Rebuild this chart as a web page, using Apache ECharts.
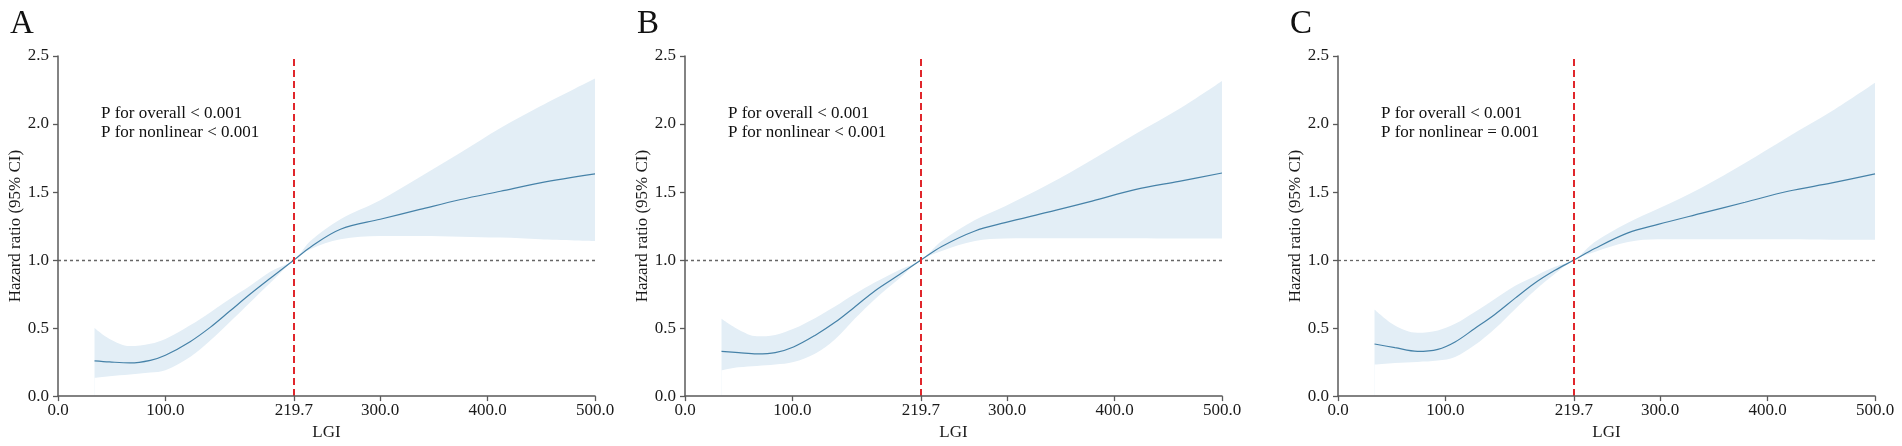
<!DOCTYPE html>
<html>
<head>
<meta charset="utf-8">
<title>LGI hazard ratio</title>
<script src="https://cdn.jsdelivr.net/npm/echarts@6.0.0/dist/echarts.min.js"></script>
<style>
    html, body { margin: 0; padding: 0; background: #fff; }
    #main { width: 1902px; height: 446px; }
</style>
</head>
<body>
<div id="main"></div>
<script>
/* 三个面板的限制性立方样条曲线 */
var cutoff = 219.7
var refHR = 1.0
var xTicks = [0, 100, 219.7, 300, 400, 500]
var panelNames = ['A', 'B', 'C']
var pOverall = ['P for overall < 0.001', 'P for overall < 0.001', 'P for overall < 0.001']
var pNonlinear = ['P for nonlinear < 0.001', 'P for nonlinear < 0.001', 'P for nonlinear = 0.001']

// A
var lgiA = [34, 48, 67, 86, 100, 123, 142, 160, 179, 198, 219.7, 235, 263, 300, 337, 375, 412, 449, 500]
var hrA = [0.259, 0.251, 0.244, 0.263, 0.30, 0.40, 0.507, 0.625, 0.75, 0.868, 1.0, 1.095, 1.226, 1.30, 1.372, 1.445, 1.506, 1.567, 1.633]
var upA = [0.50, 0.42, 0.368, 0.385, 0.42, 0.52, 0.617, 0.714, 0.811, 0.915, 1.0, 1.14, 1.30, 1.44, 1.61, 1.79, 1.97, 2.13, 2.335]
var lowA = [0.134, 0.146, 0.159, 0.173, 0.19, 0.288, 0.41, 0.544, 0.69, 0.835, 1.0, 1.08, 1.153, 1.177, 1.177, 1.172, 1.165, 1.153, 1.14]

// B
var lgiB = [34, 50, 67, 84, 101, 121, 140, 158, 177, 199, 219.7, 239, 270, 298, 338, 379, 419, 460, 500]
var hrB = [0.329, 0.319, 0.31, 0.319, 0.361, 0.446, 0.544, 0.655, 0.775, 0.89, 1.0, 1.10, 1.214, 1.275, 1.352, 1.433, 1.518, 1.579, 1.64]
var upB = [0.568, 0.488, 0.44, 0.45, 0.495, 0.573, 0.66, 0.75, 0.836, 0.925, 1.0, 1.14, 1.294, 1.396, 1.555, 1.738, 1.925, 2.11, 2.317]
var lowB = [0.19, 0.212, 0.222, 0.232, 0.251, 0.312, 0.42, 0.568, 0.714, 0.86, 1.0, 1.067, 1.14, 1.158, 1.16, 1.16, 1.16, 1.158, 1.158]

// C
var lgiC = [34, 53, 74, 93, 109, 127, 146, 165, 183, 202, 219.7, 239, 270, 298, 338, 379, 419, 460, 500]
var hrC = [0.383, 0.356, 0.329, 0.344, 0.398, 0.495, 0.60, 0.72, 0.83, 0.925, 1.0, 1.085, 1.20, 1.262, 1.343, 1.425, 1.506, 1.567, 1.633]
var upC = [0.636, 0.519, 0.466, 0.483, 0.531, 0.617, 0.714, 0.811, 0.88, 0.95, 1.0, 1.133, 1.275, 1.377, 1.53, 1.713, 1.905, 2.095, 2.303]
var lowC = [0.232, 0.244, 0.251, 0.261, 0.288, 0.373, 0.495, 0.641, 0.775, 0.90, 1.0, 1.06, 1.133, 1.153, 1.153, 1.153, 1.153, 1.15, 1.15]

var panels = [
    {lgi: lgiA, hr: hrA, up: upA, low: lowA},
    {lgi: lgiB, hr: hrB, up: upB, low: lowB},
    {lgi: lgiC, hr: hrC, up: upC, low: lowC}
]
var gridLeft = [58, 685, 1338]

var font = 'Liberation Serif'
var axisColor = '#5a5a5a'
var bandColor = '#e3eef6'
var lineColor = '#4682a8'
var smoothness = 0.35

function pairs(xs, ys) {
    return xs.map(function (x, i) {
        return [x, ys[i]]
    })
}

var grid = []
var xAxis = []
var yAxis = []
var series = []
var graphic = []

panels.forEach(function (p, i) {
    grid.push({left: gridLeft[i], top: 56, width: 537, height: 342})
    xAxis.push({
        type: 'value', gridIndex: i, min: 0, max: 500, z: 10,
        name: 'LGI', nameLocation: 'middle', nameGap: 25,
        nameTextStyle: {fontFamily: font, fontSize: 17, color: '#1a1a1a'},
        splitLine: {show: false},
        axisLine: {lineStyle: {color: axisColor, width: 1.5}},
        axisTick: {customValues: xTicks, length: 5, lineStyle: {color: axisColor, width: 1.3}},
        axisLabel: {
            customValues: xTicks, margin: 6,
            fontFamily: font, fontSize: 17, color: '#1a1a1a',
            formatter: function (v) { return v.toFixed(1) }
        }
    })
    yAxis.push({
        type: 'value', gridIndex: i, min: 0, max: 2.5, interval: 0.5, z: 10,
        name: 'Hazard ratio (95% CI)', nameLocation: 'middle', nameGap: 34,
        nameTextStyle: {fontFamily: font, fontSize: 17, color: '#1a1a1a'},
        splitLine: {show: false},
        axisLine: {show: true, lineStyle: {color: axisColor, width: 1.5}},
        axisTick: {show: true, length: 5, lineStyle: {color: axisColor, width: 1.3}},
        axisLabel: {
            margin: 9, fontFamily: font, fontSize: 17, color: '#1a1a1a',
            formatter: function (v) { return v.toFixed(1) }
        }
    })
    // 置信区间：上界填浅蓝，下界用白色盖住
    series.push({
        type: 'line', xAxisIndex: i, yAxisIndex: i, z: 1,
        data: pairs(p.lgi, p.up), smooth: smoothness, showSymbol: false, silent: true,
        lineStyle: {width: 0}, areaStyle: {color: bandColor, opacity: 1}
    })
    series.push({
        type: 'line', xAxisIndex: i, yAxisIndex: i, z: 2,
        data: pairs(p.lgi, p.low), smooth: smoothness, showSymbol: false, silent: true,
        lineStyle: {width: 0}, areaStyle: {color: '#ffffff', opacity: 1}
    })
    series.push({
        type: 'line', xAxisIndex: i, yAxisIndex: i, z: 3,
        data: pairs(p.lgi, p.hr), smooth: smoothness, showSymbol: false, silent: true,
        lineStyle: {color: lineColor, width: 1.2},
        markLine: {
            silent: true, symbol: 'none', label: {show: false}, z: 5,
            data: [
                {yAxis: refHR, lineStyle: {color: '#666', type: [3, 3], width: 1.3}},
                {xAxis: cutoff, lineStyle: {color: '#e0262b', type: [7, 4], width: 2}}
            ]
        }
    })
    graphic.push({
        type: 'text', left: gridLeft[i] - 48, top: 8,
        style: {text: panelNames[i], fontFamily: font, fontSize: 33, fill: '#111'}
    })
    graphic.push({
        type: 'text', left: gridLeft[i] + 43, top: 104,
        style: {
            text: pOverall[i] + '\n' + pNonlinear[i],
            fontFamily: font, fontSize: 17, lineHeight: 19, fill: '#111'
        }
    })
})

var mychart = echarts.init(document.getElementById('main'))
mychart.setOption({
    animation: false,
    backgroundColor: '#fff',
    grid: grid,
    xAxis: xAxis,
    yAxis: yAxis,
    series: series,
    graphic: graphic
})
</script>
</body>
</html>
